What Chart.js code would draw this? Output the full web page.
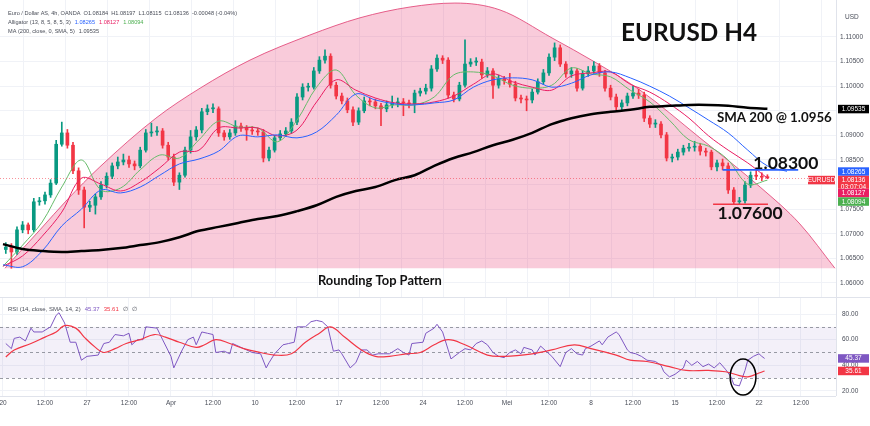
<!DOCTYPE html>
<html>
<head>
<meta charset="utf-8">
<script src="https://cdn.jsdelivr.net/npm/chart.js@4.4.0/dist/chart.umd.min.js"></script>
<style>
  html, body { margin: 0; padding: 0; background: #fff; }
  #wrap { position: relative; width: 870px; height: 426px; overflow: hidden; }
  #priceBox { position: absolute; left: 0; top: 0; }
  #rsiBox { position: absolute; left: 0; top: 297px; }
</style>
</head>
<body>
<div id="wrap">
  <div id="priceBox"><canvas id="priceChart" width="870" height="297"></canvas></div>
  <div id="rsiBox"><canvas id="rsiChart" width="870" height="129"></canvas></div>
</div>
<script>
// EURUSD 4h, x = bar number counted from Mon 20 Mar 00:00 (one candle below = two 4h bars)
const firstOpen = 1.0668;
const closes = [1.0673,1.0663,1.0708,1.0718,1.0708,1.0765,1.0767,1.0779,1.0803,1.0882,
  1.0905,1.0880,1.0828,1.0789,1.0754,1.0758,1.0775,1.0799,1.0817,1.0838,
  1.0846,1.0850,1.0842,1.0838,1.0870,1.0905,1.0907,1.0909,1.0880,1.0856,
  1.0805,1.0819,1.0870,1.0897,1.0911,1.0948,1.0954,1.0954,1.0905,1.0897,
  1.0905,1.0919,1.0915,1.0911,1.0909,1.0907,1.0854,1.0870,1.0895,1.0903,
  1.0909,1.0927,1.0978,1.0998,1.0998,1.1031,1.1053,1.1061,1.1002,1.0980,
  1.0970,1.0952,1.0927,1.0950,1.0970,1.0968,1.0960,1.0954,1.0962,1.0966,
  1.0968,1.0966,1.0964,1.0986,1.0990,1.0996,1.1035,1.1057,1.1053,1.0982,
  1.0974,1.1002,1.1045,1.1049,1.1049,1.1023,1.1031,1.1002,1.1015,1.1011,
  1.1004,1.0976,1.0974,1.0972,1.0988,1.1009,1.1027,1.1059,1.1078,1.1045,
  1.1025,1.1031,1.0996,1.1025,1.1031,1.1041,1.1027,1.0996,1.0978,1.0958,
  1.0966,1.0980,1.0986,1.0982,1.0935,1.0923,1.0923,1.0901,1.0854,1.0856,
  1.0866,1.0874,1.0876,1.0878,1.0868,1.0866,1.0836,1.0844,1.0838,1.0789,
  1.0765,1.0767,1.0799,1.0819,1.0817,1.0815,1.0814];
const highs = [1.0682,1.0680,1.0714,1.0725,1.0722,1.0772,1.0774,1.0785,1.0810,1.0890,
  1.0927,1.0912,1.0886,1.0834,1.0795,1.0766,1.0781,1.0806,1.0824,1.0844,
  1.0856,1.0862,1.0858,1.0848,1.0876,1.0912,1.0925,1.0918,1.0914,1.0886,
  1.0862,1.0824,1.0876,1.0910,1.0918,1.0955,1.0962,1.0964,1.0958,1.0910,
  1.0912,1.0930,1.0925,1.0920,1.0918,1.0915,1.0912,1.0876,1.0900,1.0910,
  1.0916,1.0934,1.0985,1.1005,1.1006,1.1038,1.1060,1.1074,1.1066,1.1008,
  1.0986,1.0976,1.0958,1.0956,1.0978,1.0976,1.0974,1.0965,1.0970,1.0980,
  1.0976,1.0975,1.0972,1.0992,1.0996,1.1004,1.1042,1.1064,1.1062,1.1058,
  1.0988,1.1008,1.1094,1.1056,1.1058,1.1055,1.1038,1.1036,1.1022,1.1020,
  1.1026,1.1010,1.0982,1.0980,1.0994,1.1015,1.1034,1.1066,1.1088,1.1084,
  1.1050,1.1038,1.1036,1.1032,1.1040,1.1050,1.1046,1.1032,1.1002,1.0984,
  1.0972,1.0986,1.1000,1.0994,1.0988,1.0940,1.0932,1.0928,1.0906,1.0862,
  1.0872,1.0880,1.0884,1.0888,1.0884,1.0874,1.0870,1.0850,1.0852,1.0844,
  1.0794,1.0774,1.0806,1.0826,1.0830,1.0824,1.0820];
const lows = [1.0660,1.0630,1.0658,1.0702,1.0700,1.0704,1.0758,1.0760,1.0774,1.0800,
  1.0878,1.0874,1.0822,1.0780,1.0712,1.0745,1.0740,1.0770,1.0793,1.0812,
  1.0832,1.0840,1.0835,1.0830,1.0834,1.0866,1.0898,1.0900,1.0874,1.0850,
  1.0798,1.0790,1.0815,1.0864,1.0890,1.0905,1.0942,1.0946,1.0898,1.0890,
  1.0892,1.0900,1.0908,1.0890,1.0902,1.0900,1.0846,1.0848,1.0866,1.0890,
  1.0898,1.0904,1.0922,1.0972,1.0990,1.0994,1.1026,1.1047,1.0996,1.0974,
  1.0964,1.0946,1.0920,1.0922,1.0946,1.0960,1.0954,1.0920,1.0948,1.0956,
  1.0958,1.0940,1.0956,1.0946,1.0980,1.0984,1.0990,1.1030,1.1046,1.0976,
  1.0968,1.0970,1.0998,1.1040,1.1042,1.1016,1.1018,1.0975,1.0996,1.1004,
  1.0998,1.0970,1.0966,1.0950,1.0966,1.0984,1.1004,1.1022,1.1052,1.1040,
  1.1018,1.1018,1.0990,1.0992,1.1020,1.1026,1.1020,1.0990,1.0972,1.0952,
  1.0952,1.0960,1.0975,1.0975,1.0928,1.0916,1.0916,1.0895,1.0848,1.0846,
  1.0850,1.0860,1.0868,1.0868,1.0860,1.0858,1.0830,1.0828,1.0830,1.0782,
  1.0760,1.0760,1.0762,1.0794,1.0810,1.0808,1.0812];

// moving averages, read every 7 bars
const lineBars = [0,7,14,21,28,35,42,49,56,63,70,77,84,91,98,105,112,119,126,133,
  140,147,154,161,168,175,182,189,196,203,210,217,224,231,238,245,252,259,266,273,280];
const sma200 = [1.0679,1.0669,1.0665,1.0663,1.0665,1.0667,1.0671,1.0677,1.0683,1.0693,
  1.0706,1.0714,1.0722,1.0730,1.0736,1.0746,1.0758,1.0775,1.0787,1.0795,
  1.0809,1.0819,1.0838,1.0854,1.0866,1.0880,1.0891,1.0905,1.0923,1.0935,
  1.0943,1.0948,1.0952,1.0958,1.0960,1.0962,1.0962,1.0960,1.0956,1.0954,null];
const jaw = [1.0637,1.0633,1.0665,1.0716,1.0750,1.0789,1.0783,1.0795,1.0819,1.0842,
  1.0852,1.0868,1.0899,1.0897,1.0901,1.0895,1.0907,1.0941,1.0984,1.0972,
  1.0964,1.0962,1.0966,1.0972,1.0998,1.1013,1.1017,1.1013,1.0998,1.1006,
  1.1023,1.1029,1.1017,1.1000,1.0980,1.0956,1.0931,1.0905,1.0870,1.0838,1.0827];
const teeth = [1.0634,1.0655,1.0695,1.0744,1.0813,1.0801,1.0787,1.0805,1.0834,1.0866,
  1.0870,1.0915,1.0915,1.0915,1.0899,1.0911,1.0968,1.1013,1.0992,1.0976,
  1.0966,1.0964,1.0968,1.0980,1.1004,1.1025,1.1009,1.0998,1.0992,1.1021,
  1.1027,1.1029,1.1004,1.0988,1.0964,1.0935,1.0899,1.0870,1.0844,1.0813,null];
const lips = [1.0634,1.0677,1.0724,1.0795,1.0850,1.0789,1.0793,1.0830,1.0860,1.0854,
  1.0891,1.0929,1.0917,1.0915,1.0887,1.0931,1.0998,1.1033,1.0982,1.0956,
  1.0962,1.0962,1.0978,1.1023,1.1029,1.1021,1.1002,1.0996,1.1002,1.1037,
  1.1025,1.1019,1.0992,1.0968,1.0931,1.0891,1.0878,1.0850,1.0801,1.0809,null];

// rounding top outline
const arcBars = [0.7,13.2,22.9,34.6,54.6,70.4,88.2,109.6,127.5,145.4,161.4,177.5,196.1,211.4,227.5,248.9,270.4,284.6,297.1];
const arcPrices = [1.0630,1.0708,1.0769,1.0836,1.0935,1.0996,1.1053,1.1104,1.1139,1.1161,1.1169,1.1155,1.1098,1.1049,1.0992,1.0895,1.0795,1.0720,1.0630];
const arcBase = 1.0630;

const resistance = 1.0830;
const support = 1.0760;
const smaNote = 1.0956;
const smaLast = 1.09535;
const lastPrice = 1.08136;

// RSI(14) and its SMA(14)
const rsiBars = [1,3,4,6,8,10,11,14,17,19,20,22,24,26,28,30,34,36,38,40,
  43,45,46,48,50,51,55,57,60,61,64,66,68,69,71,73,75,76,79,81,
  82,85,87,89,92,94,95,97,100,102,104,105,108,110,112,114,116,118,120,121,
  124,126,128,130,132,134,136,138,141,143,145,146,150,151,154,155,157,159,160,163,
  165,167,169,171,173,175,177,179,181,183,185,186,189,190,192,194,196,199,201,203,
  205,207,208,210,213,214,216,219,220,223,224,226,228,230,233,235,236,238,240,243,
  244,246,248,250,252,254,256,258,260,261,263,265,266,268,270,271,272];
const rsiValues = [57,53,61,62,59,69,66,66,70,79,81,73,58,58,44,47,48,57,58,64,
  63,65,56,60,60,70,69,60,47,38,52,60,62,56,66,65,64,50,51,49,
  57,54,52,50,49,38,42,49,56,57,58,70,70,74,75,74,70,51,52,49,
  38,42,52,52,48,49,49,49,53,50,48,57,58,65,69,72,66,52,45,50,
  53,52,57,59,56,50,47,46,50,52,49,54,52,48,55,51,47,39,50,53,
  49,48,53,55,59,56,62,66,64,52,50,49,47,44,43,40,35,31,33,38,
  44,40,43,39,41,38,42,37,31,25,24,36,44,47,49,47,45.37];
const rsiMaBars = [1,4,10,15,19,22,26,29,33,36,40,44,49,54,58,63,69,72,76,81,
  86,92,97,103,108,113,117,122,128,133,138,144,149,154,159,165,173,179,189,196,
  204,210,219,224,230,238,244,252,258,263,266,270,272];
const rsiMaValues = [46.5,52,57,62,66,71,69,62,54,50,53,57,60,64,62,58,54,56,60,57,
  53,50,48,49,58,65,70,62,52,47,47,49,50,56,60,56,48,47,49,52,
  56,53,48,44,43,39,36,36,35,32,31,34,35.61];
const rsiLevels = [70, 50, 30];

// axes
const priceTicks = [1.06,1.065,1.07,1.075,1.08,1.085,1.09,1.095,1.10,1.105,1.11];
const rsiTicks = [20, 40, 60, 80];
const timeTickBars = [0,15,30,45,60,75,90,105,120,135,150,165,180,195,210,225,240,255,270,285];
const timeLabels = ['20','12:00','27','12:00','Apr','12:00','10','12:00','17','12:00',
  '24','12:00','Mei','12:00','8','12:00','15','12:00','22','12:00'];

// price tags on the right axis
const tagValues = [1.09535, 1.08265, 1.08136, 1.08127, 1.08094];
const tagColors = ['#000000', '#2962ff', '#f23645', '#e91e63', '#4caf50'];
const tagSub = ['', '', '03:07:04', '', ''];

const xMin = -1.07, xMax = 297.5;
const UP = '#089981', DOWN = '#f23645';
const SMALL = '"Liberation Sans", Arial, sans-serif';
const NOTE = 'Lato, "Open Sans", sans-serif';
const GRID = '#f0f2f7';

const opens = [firstOpen].concat(closes.slice(0, -1));
const candleX = i => 2 * i + 1;
const candleColors = closes.map((c, i) => c >= opens[i] ? UP : DOWN);
const pts = (xs, ys) => xs.map((v, i) => ({ x: v, y: ys[i] }));

function noPad(s) {
  s.paddingLeft = 0; s.paddingRight = 0; s.paddingTop = 0; s.paddingBottom = 0;
}

function fitFont(ctx, text, width, weight, family) {
  ctx.font = weight + ' 20px ' + family;
  const size = 20 * width / ctx.measureText(text).width;
  return weight + ' ' + size.toFixed(1) + 'px ' + family;
}

function note(ctx, x, y, text, bar, price, width) {
  ctx.font = fitFont(ctx, text, width, 'bold', NOTE);
  ctx.fillStyle = '#111';
  ctx.textAlign = 'center';
  ctx.textBaseline = 'middle';
  ctx.fillText(text, x.getPixelForValue(bar), y.getPixelForValue(price));
}

function tag(ctx, left, top, w, h, bg, lines) {
  ctx.fillStyle = bg;
  ctx.fillRect(left, top, w, h);
  ctx.fillStyle = '#fff';
  ctx.font = '6.5px ' + SMALL;
  ctx.textAlign = 'center';
  ctx.textBaseline = 'middle';
  lines.forEach((t, i) => ctx.fillText(t, left + w / 2, top + 4.5 + i * 7));
}

function pieces(ctx, x0, y0, parts) {
  let xx = x0;
  ctx.textAlign = 'left';
  ctx.textBaseline = 'middle';
  parts.forEach(p => {
    ctx.fillStyle = p[1];
    ctx.fillText(p[0], xx, y0);
    xx += ctx.measureText(p[0]).width + 4;
  });
}

const priceOverlay = {
  id: 'priceOverlay',
  afterDatasetsDraw(chart) {
    const { ctx, chartArea: a, scales: { x, y } } = chart;
    ctx.save();
    ctx.beginPath();
    ctx.rect(a.left, a.top, a.right - a.left, a.bottom - a.top);
    ctx.clip();
    const yl = Math.round(y.getPixelForValue(lastPrice)) + 0.5;
    ctx.strokeStyle = 'rgba(242,54,69,0.55)';
    ctx.lineWidth = 1;
    ctx.setLineDash([1, 2]);
    ctx.beginPath(); ctx.moveTo(a.left, yl); ctx.lineTo(a.right, yl); ctx.stroke();
    ctx.setLineDash([]);
    ctx.lineWidth = 1.6;
    ctx.strokeStyle = '#2962ff';
    ctx.beginPath();
    ctx.moveTo(x.getPixelForValue(257), y.getPixelForValue(resistance));
    ctx.lineTo(x.getPixelForValue(284), y.getPixelForValue(resistance));
    ctx.stroke();
    ctx.strokeStyle = '#f23645';
    ctx.beginPath();
    ctx.moveTo(x.getPixelForValue(253.6), y.getPixelForValue(support));
    ctx.lineTo(x.getPixelForValue(273.2), y.getPixelForValue(support));
    ctx.stroke();
    ctx.restore();

    ctx.save();
    note(ctx, x, y, 'EURUSD H4', 245, 1.1108, 136);
    note(ctx, x, y, 'SMA 200 @ ' + smaNote.toFixed(4), 275.5, 1.0935, 115);
    note(ctx, x, y, resistance.toFixed(5), 279.6, 1.0844, 65);
    note(ctx, x, y, support.toFixed(5), 266.8, 1.0742, 65);
    note(ctx, x, y, 'Rounding Top Pattern', 134.6, 1.0604, 124);
    ctx.restore();
  },
  afterDraw(chart) {
    const { ctx, chartArea: a, scales: { y } } = chart;
    ctx.save();
    ctx.strokeStyle = '#e0e3eb';
    ctx.lineWidth = 1;
    ctx.beginPath(); ctx.moveTo(a.right + 0.5, 0); ctx.lineTo(a.right + 0.5, a.bottom); ctx.stroke();

    // stacked price tags
    let prevBottom = -1;
    let lastTop = 0;
    tagValues.forEach((v, i) => {
      const h = tagSub[i] ? 13 : 8.5;
      let top = y.getPixelForValue(v) - 4.25;
      if (top < prevBottom) top = prevBottom;
      tag(ctx, a.right + 2, top, 31, h, tagColors[i], [v.toFixed(5)].concat(tagSub[i] ? [tagSub[i]] : []));
      if (tagSub[i]) lastTop = top;
      prevBottom = top + h;
    });
    tag(ctx, a.right - 28, lastTop, 27, 8.5, '#f23645', ['EURUSD']);

    ctx.font = '6.5px ' + SMALL;
    ctx.fillStyle = '#4a4e59';
    ctx.textAlign = 'left';
    ctx.textBaseline = 'middle';
    ctx.fillText('USD', a.right + 9, 17);

    // legend
    const l1 = 'Euro / Dollar AS, 4h, OANDA  O1.08184  H1.08197  L1.08115  C1.08136  -0.00048 (-0.04%)';
    ctx.font = fitFont(ctx, l1, 229, 'normal', SMALL);
    ctx.fillStyle = '#4a4e59';
    ctx.fillText(l1, 8, 13);
    pieces(ctx, 8, 22, [['Alligator (13, 8, 5, 8, 5, 3)', '#4a4e59'],
      [tagValues[1].toFixed(5), '#2962ff'], [tagValues[3].toFixed(5), '#e91e63'],
      [tagValues[4].toFixed(5), '#4caf50']]);
    pieces(ctx, 8, 31, [['MA (200, close, 0, SMA, 5)', '#4a4e59'], [smaLast.toFixed(5), '#4a4e59']]);
    ctx.restore();
  }
};

const rsiOverlay = {
  id: 'rsiOverlay',
  beforeDatasetsDraw(chart) {
    const { ctx, chartArea: a, scales: { y } } = chart;
    ctx.save();
    ctx.fillStyle = 'rgba(126,87,194,0.09)';
    const yt = y.getPixelForValue(rsiLevels[0]), yb = y.getPixelForValue(rsiLevels[2]);
    ctx.fillRect(a.left, yt, a.right - a.left, yb - yt);
    ctx.strokeStyle = 'rgba(120,123,134,0.75)';
    ctx.lineWidth = 1;
    ctx.setLineDash([3, 3]);
    rsiLevels.forEach(v => {
      const yy = Math.round(y.getPixelForValue(v)) + 0.5;
      ctx.beginPath(); ctx.moveTo(a.left, yy); ctx.lineTo(a.right, yy); ctx.stroke();
    });
    ctx.restore();
  },
  afterDraw(chart) {
    const { ctx, chartArea: a, scales: { x, y } } = chart;
    ctx.save();
    ctx.strokeStyle = '#e0e3eb';
    ctx.lineWidth = 1;
    ctx.beginPath();
    ctx.moveTo(0, 0.5); ctx.lineTo(870, 0.5);
    ctx.moveTo(a.right + 0.5, 0); ctx.lineTo(a.right + 0.5, a.bottom);
    ctx.moveTo(0, a.bottom + 0.5); ctx.lineTo(a.right, a.bottom + 0.5);
    ctx.stroke();

    // circled crossover
    const cx = x.getPixelForValue(264.3), cy = y.getPixelForValue(30.9);
    const rx = x.getPixelForValue(264.3 + 4.6) - cx;
    const ry = y.getPixelForValue(30.9 - 14) - cy;
    ctx.strokeStyle = '#000';
    ctx.lineWidth = 1.5;
    ctx.beginPath(); ctx.ellipse(cx, cy, rx, ry, 0, 0, Math.PI * 2); ctx.stroke();

    const rv = rsiValues[rsiValues.length - 1], mv = rsiMaValues[rsiMaValues.length - 1];
    tag(ctx, a.right + 2, y.getPixelForValue(rv) - 4.25, 31, 8.5, '#7e57c2', [rv.toFixed(2)]);
    tag(ctx, a.right + 2, y.getPixelForValue(mv) - 4.25, 31, 8.5, '#f23645', [mv.toFixed(2)]);

    ctx.font = '6px ' + SMALL;
    pieces(ctx, 8, 12, [['RSI (14, close, SMA, 14, 2)', '#4a4e59'], [rv.toFixed(2), '#7e57c2'],
      [mv.toFixed(2), '#f23645'], ['\u2205', '#4a4e59'], ['\u2205', '#4a4e59']]);
    ctx.restore();
  }
};

const xGrid = {
  type: 'linear', min: xMin, max: xMax, offset: false,
  grid: { color: GRID, drawTicks: false },
  border: { display: false },
  afterBuildTicks: s => { s.ticks = timeTickBars.map(v => ({ value: v })); }
};

new Chart(document.getElementById('priceChart'), {
  type: 'bar',
  data: {
    datasets: [
      { type: 'line', data: pts(arcBars, arcPrices), borderColor: 'rgba(226,70,120,0.85)', borderWidth: 1,
        backgroundColor: 'rgba(232,62,118,0.27)', fill: { value: arcBase }, pointRadius: 0,
        cubicInterpolationMode: 'monotone', order: 10 },
      { type: 'bar', data: closes.map((c, i) => ({ x: candleX(i), y: [lows[i], highs[i]] })),
        backgroundColor: candleColors, barThickness: 1, grouped: false, order: 6 },
      { type: 'bar', data: closes.map((c, i) => ({ x: candleX(i), y: [opens[i], c] })),
        backgroundColor: candleColors, barThickness: 3, minBarLength: 1, grouped: false, order: 5 },
      { type: 'line', data: pts(lineBars, lips), borderColor: '#66bb6a', borderWidth: 1, pointRadius: 0, tension: 0.35, order: 4 },
      { type: 'line', data: pts(lineBars, teeth), borderColor: '#e91e63', borderWidth: 1, pointRadius: 0, tension: 0.35, order: 3 },
      { type: 'line', data: pts(lineBars, jaw), borderColor: '#2962ff', borderWidth: 1, pointRadius: 0, tension: 0.35, order: 2 },
      { type: 'line', data: pts(lineBars, sma200), borderColor: '#000', borderWidth: 2.5, pointRadius: 0, tension: 0.35, order: 1 }
    ]
  },
  options: {
    responsive: false, animation: false, devicePixelRatio: 1,
    layout: { padding: 0 },
    plugins: { legend: { display: false }, tooltip: { enabled: false } },
    scales: {
      x: Object.assign({}, xGrid, { ticks: { display: false },
        afterFit: s => { s.height = 0; noPad(s); } }),
      y: {
        position: 'right', min: 1.05715, max: 1.11752,
        afterBuildTicks: s => { s.ticks = priceTicks.map(v => ({ value: v })); },
        afterFit: s => { s.width = 34; noPad(s); },
        grid: { color: GRID, drawTicks: false },
        border: { display: false },
        ticks: { padding: 4, color: '#4a4e59', font: { size: 6.5, family: SMALL }, callback: v => v.toFixed(5) }
      }
    }
  },
  plugins: [priceOverlay]
});

new Chart(document.getElementById('rsiChart'), {
  type: 'line',
  data: {
    datasets: [
      { data: pts(rsiMaBars, rsiMaValues), borderColor: '#f23645', borderWidth: 1.2, pointRadius: 0, tension: 0.4, order: 1 },
      { data: pts(rsiBars, rsiValues), borderColor: '#7e57c2', borderWidth: 1, pointRadius: 0, tension: 0, order: 2 }
    ]
  },
  options: {
    responsive: false, animation: false, devicePixelRatio: 1,
    layout: { padding: 0 },
    plugins: { legend: { display: false }, tooltip: { enabled: false } },
    scales: {
      x: Object.assign({}, xGrid, {
        ticks: { padding: 3, autoSkip: false, maxRotation: 0, color: '#4a4e59', font: { size: 6.5, family: SMALL },
          callback: v => timeLabels[timeTickBars.indexOf(v)] },
        afterFit: s => { s.height = 30; noPad(s); }
      }),
      y: {
        position: 'right', min: 16.1, max: 93.25,
        afterBuildTicks: s => { s.ticks = rsiTicks.map(v => ({ value: v })); },
        afterFit: s => { s.width = 34; noPad(s); },
        grid: { color: GRID, drawTicks: false },
        border: { display: false },
        ticks: { padding: 6, color: '#4a4e59', font: { size: 6.5, family: SMALL }, callback: v => v.toFixed(2) }
      }
    }
  },
  plugins: [rsiOverlay]
});
</script>
</body>
</html>
